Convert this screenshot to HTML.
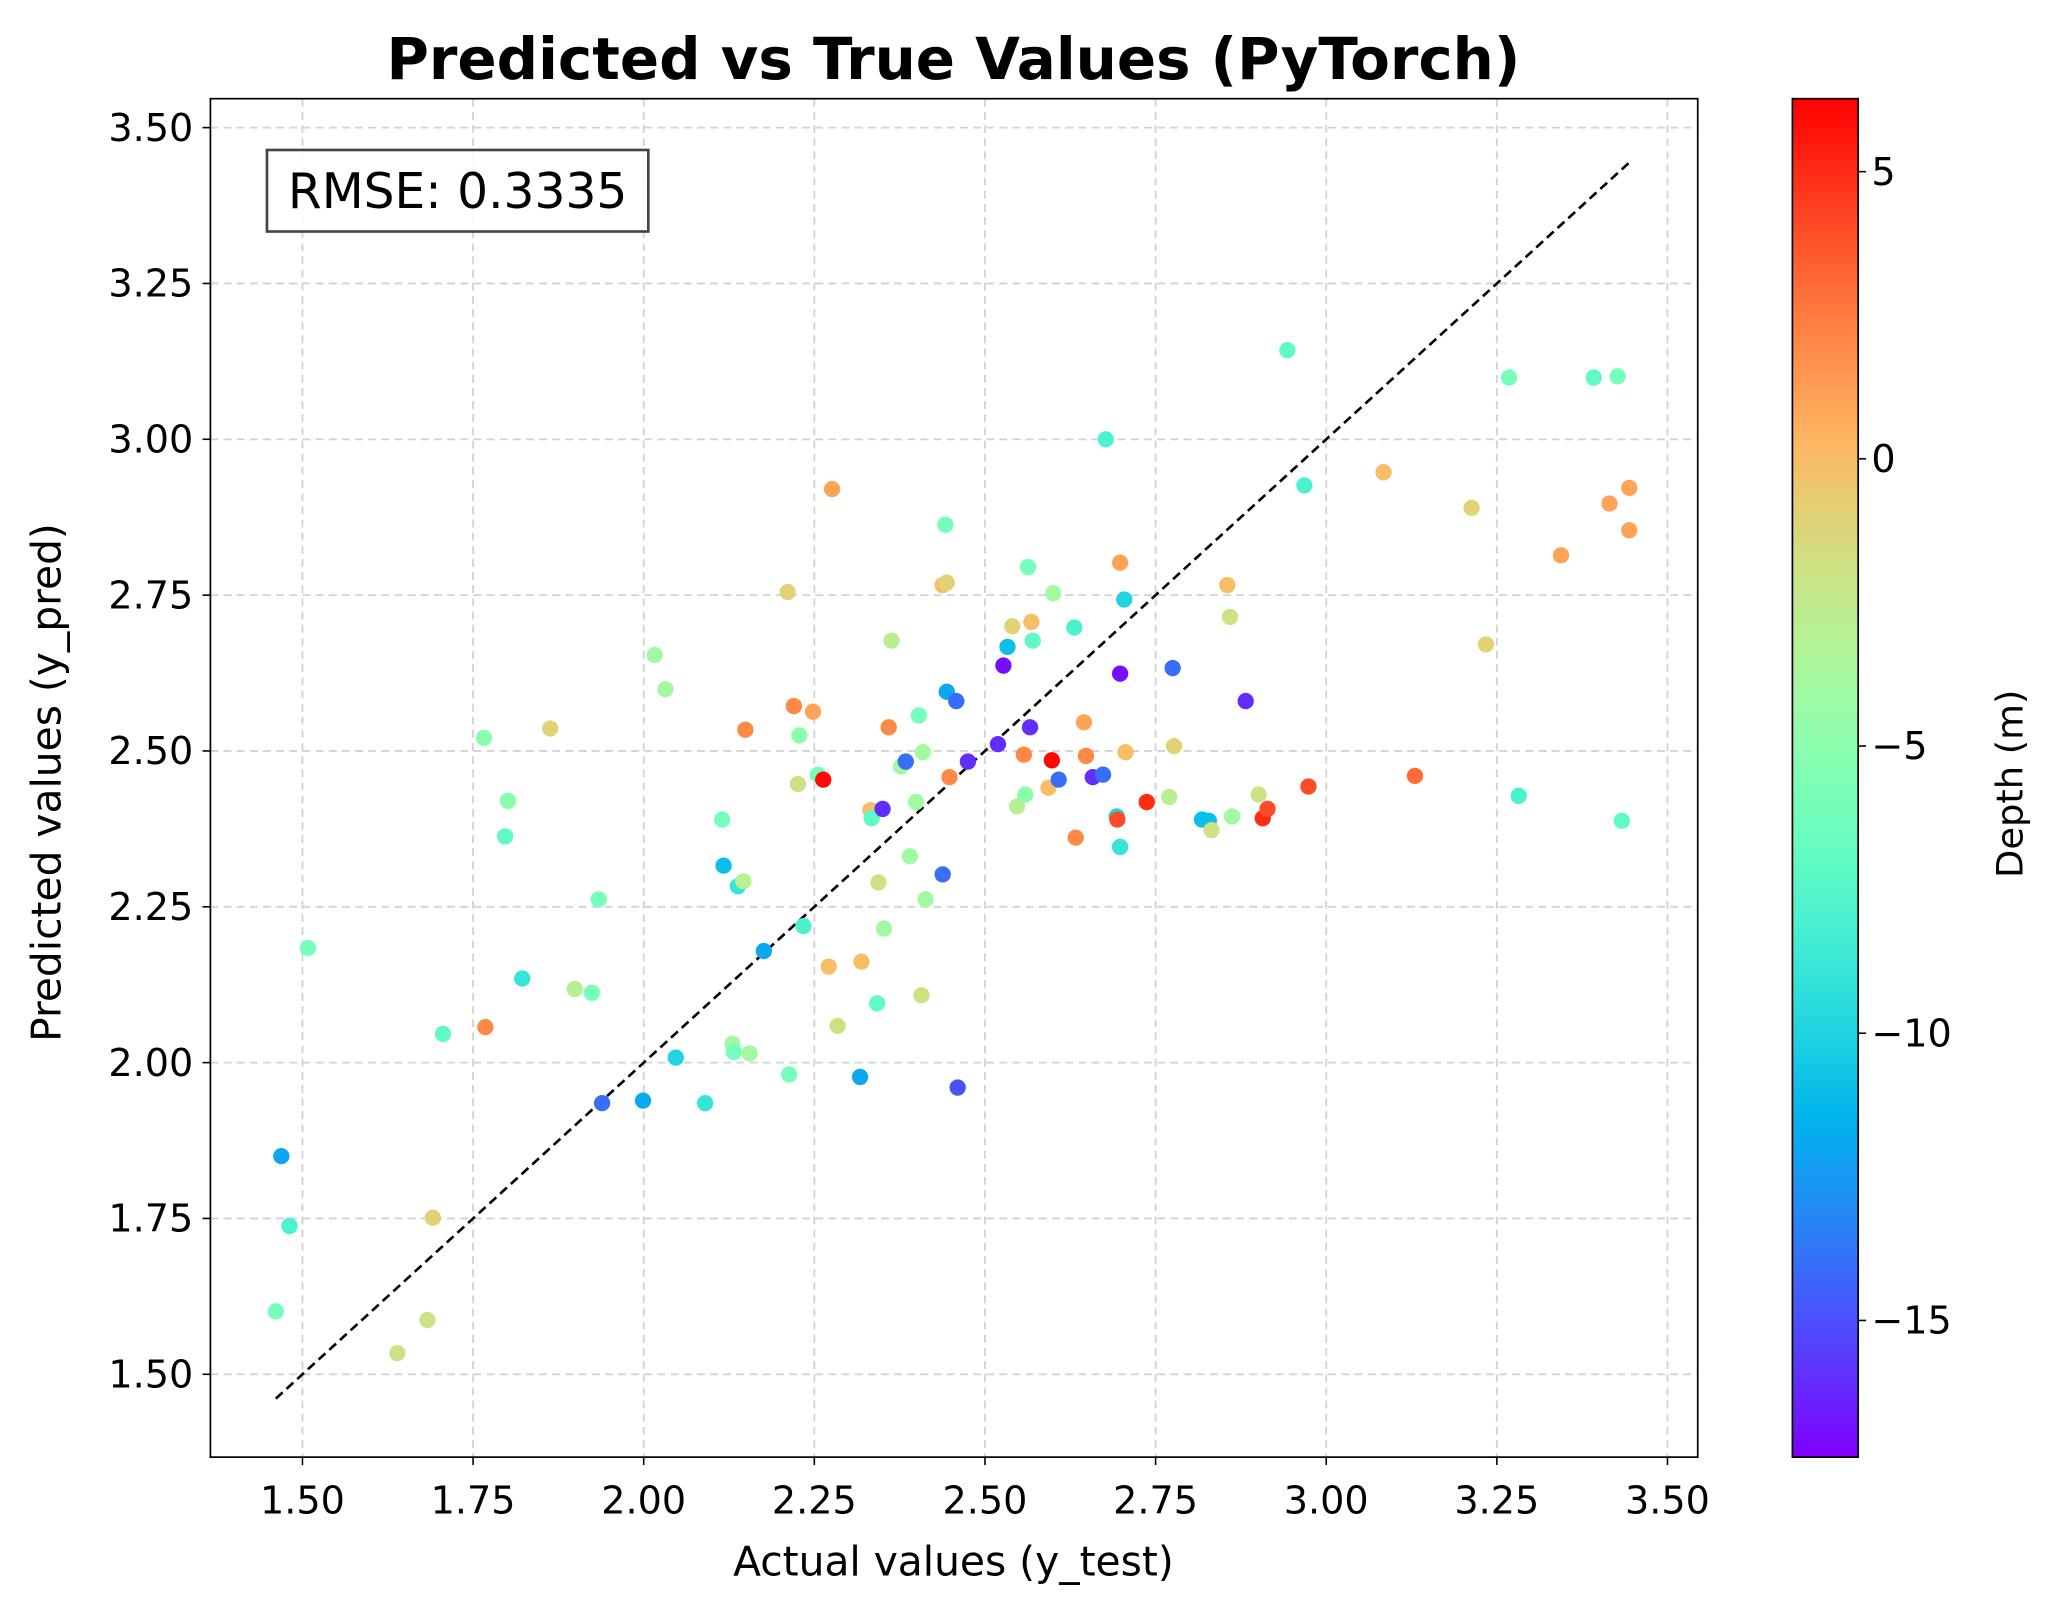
<!DOCTYPE html>
<html><head><meta charset="utf-8"><style>
html,body{margin:0;padding:0;background:#fff;}
svg{display:block;font-family:"DejaVu Sans","Liberation Sans",sans-serif;}
</style></head><body>
<svg id="chart" width="2062" height="1615" viewBox="0 0 1568 1228" xmlns="http://www.w3.org/2000/svg">
<defs><linearGradient id="cbgrad" x1="0" y1="1" x2="0" y2="0"></linearGradient></defs>
<rect width="1568" height="1228" fill="#fff"/>
<g id="grid"></g>
<g id="diag"></g>
<g id="points"></g>
<rect x="160" y="75" width="1131" height="1033" fill="none" stroke="#000" stroke-width="1.3"/>
<g id="xticks"></g><g id="yticks"></g>
<g>
<rect x="203" y="114" width="290" height="62" fill="#fff" fill-opacity="0.8" stroke="#444" stroke-width="2"/>
<text x="348" y="158" text-anchor="middle" font-size="37" fill="#000">RMSE: 0.3335</text>
</g>
<text x="725" y="60" text-anchor="middle" font-size="44" font-weight="bold">Predicted vs True Values (PyTorch)</text>
<text x="725" y="1198" text-anchor="middle" font-size="31">Actual values (y_test)</text>
<text transform="translate(46,595) rotate(-90)" text-anchor="middle" font-size="31">Predicted values (y_pred)</text>
<rect x="1363" y="75" width="50" height="1033" fill="url(#cbgrad)" stroke="#000" stroke-width="1.3"/>
<g id="cbticks"></g>
<text transform="translate(1538,596) rotate(-90)" text-anchor="middle" font-size="28">Depth (m)</text>
</svg>
<script>
const xTicks=[1.50,1.75,2.00,2.25,2.50,2.75,3.00,3.25,3.50];
const yTicks=[1.50,1.75,2.00,2.25,2.50,2.75,3.00,3.25,3.50];
const cbTicks=[5,0,-5,-10,-15];
const actual=[1.469,1.481,1.461,1.508,1.639,1.683,1.691,1.706,1.768,1.766,1.797,1.801,1.822,1.863,1.899,1.924,1.934,1.939,1.999,2.016,2.032,2.047,2.090,2.115,2.117,2.130,2.132,2.138,2.146,2.149,2.155,2.176,2.211,2.213,2.220,2.226,2.228,2.234,2.248,2.255,2.263,2.271,2.276,2.284,2.319,2.317,2.332,2.334,2.344,2.350,2.342,2.352,2.359,2.363,2.377,2.384,2.390,2.399,2.403,2.409,2.407,2.413,2.438,2.444,2.442,2.444,2.438,2.448,2.458,2.460,2.475,2.519,2.527,2.533,2.540,2.547,2.557,2.559,2.563,2.566,2.568,2.570,2.593,2.598,2.600,2.608,2.631,2.633,2.645,2.648,2.658,2.673,2.677,2.693,2.694,2.698,2.698,2.698,2.704,2.706,2.737,2.770,2.775,2.777,2.818,2.828,2.832,2.855,2.859,2.862,2.882,2.901,2.907,2.914,2.943,2.968,2.974,3.084,3.130,3.213,3.234,3.268,3.282,3.344,3.392,3.415,3.427,3.433,3.444,3.444];
const predicted=[1.850,1.738,1.601,2.184,1.534,1.587,1.751,2.046,2.057,2.521,2.363,2.420,2.135,2.536,2.118,2.112,2.262,1.935,1.939,2.654,2.599,2.008,1.935,2.390,2.316,2.030,2.017,2.283,2.291,2.534,2.015,2.179,2.755,1.981,2.572,2.447,2.525,2.219,2.563,2.462,2.454,2.154,2.920,2.059,2.162,1.977,2.405,2.392,2.289,2.407,2.095,2.215,2.538,2.677,2.475,2.483,2.331,2.418,2.557,2.498,2.108,2.262,2.766,2.770,2.863,2.595,2.302,2.458,2.580,1.960,2.483,2.511,2.637,2.667,2.700,2.411,2.494,2.430,2.795,2.538,2.707,2.677,2.441,2.485,2.753,2.454,2.698,2.361,2.546,2.492,2.458,2.462,3.000,2.395,2.390,2.624,2.802,2.346,2.743,2.498,2.418,2.426,2.633,2.508,2.390,2.388,2.373,2.766,2.715,2.395,2.580,2.430,2.392,2.407,3.143,2.926,2.443,2.947,2.460,2.890,2.671,3.099,2.428,2.814,3.099,2.897,3.101,2.388,2.922,2.854];
const depth=[-12,-8,-6,-6,-2,-2,-1,-7,2,-5,-7,-5,-9,-1,-3,-6,-6,-14,-12,-4,-4,-10,-9,-6,-11,-4,-6,-9,-3,2,-4,-12,-1,-6,2,-2,-5,-8,1,-6,6,0,1,-2,0,-12,0,-7,-2,-16,-7,-4,2,-3,-4,-14,-4,-4,-6,-4,-2,-4,0,-1,-6,-12,-14,2,-14,-15,-16,-16,-17,-11,-1,-3,2,-5,-6,-16,0,-7,0,6,-4,-14,-8,2,1,2,-16,-14,-8,-10,4,-17,1,-9,-10,0,5,-3,-14,-1,-11,-11,-2,0,-2,-4,-16,-2,5,4,-7,-8,4,0,3,-1,-1,-6,-8,1,-7,1,-6,-7,1,1];
const X0=160,X1=1291,Y0=75,Y1=1108;
const sx=v=>230+(v-1.5)/0.25*129.75;
const sy=v=>1045-(v-1.5)/0.25*118.5;
const dMin=-17.38,dMax=6.27;
const sc=v=>1108-(v-dMin)/(dMax-dMin)*1033;
const NS="http://www.w3.org/2000/svg";
function mk(t,a,p){const e=document.createElementNS(NS,t);for(const k in a)e.setAttribute(k,a[k]);p.appendChild(e);return e;}
function rainbow(t){t=Math.max(0,Math.min(1,t));const c=v=>Math.round(Math.max(0,Math.min(1,v))*255);
return `rgb(${c(Math.abs(2*t-0.5))},${c(Math.sin(Math.PI*t))},${c(Math.cos(Math.PI*t/2))})`;}
const grid=document.getElementById('grid');
xTicks.forEach(v=>{const l=mk('line',{x1:sx(v),x2:sx(v),y1:Y0,y2:Y1,stroke:'#d3d3d3','stroke-width':1.4,'stroke-dasharray':'6,4'},grid);

});
yTicks.forEach(v=>{const l=mk('line',{x1:X0,x2:X1,y1:sy(v),y2:sy(v),stroke:'#d3d3d3','stroke-width':1.4,'stroke-dasharray':'6,4'},grid);

});
const xt=document.getElementById('xticks');
xTicks.forEach(v=>{mk('line',{x1:sx(v),x2:sx(v),y1:Y1,y2:Y1+6,stroke:'#000','stroke-width':1.2},xt);
const t=mk('text',{x:sx(v),y:Y1+43,'text-anchor':'middle','font-size':29},xt);t.textContent=v.toFixed(2);

});
const yt=document.getElementById('yticks');
yTicks.forEach(v=>{mk('line',{x1:X0-6,x2:X0,y1:sy(v),y2:sy(v),stroke:'#000','stroke-width':1.2},yt);
const t=mk('text',{x:X0-13,y:sy(v)+10,'text-anchor':'end','font-size':29},yt);t.textContent=v.toFixed(2);

});
const cbt=document.getElementById('cbticks');
cbTicks.forEach(v=>{mk('line',{x1:1413,x2:1419,y1:sc(v),y2:sc(v),stroke:'#000','stroke-width':1.2},cbt);
const t=mk('text',{x:1423,y:sc(v)+10,'font-size':29},cbt);t.textContent=(v<0?'\u2212'+(-v):''+v);

});
const g=document.getElementById('cbgrad');
for(let i=0;i<=20;i++){mk('stop',{offset:(i/20),'stop-color':rainbow(i/20)},g);}
const mn=Math.min(...actual),mx=Math.max(...actual);
const dl=mk('line',{x1:sx(mn),y1:sy(mn),x2:sx(mx),y2:sy(mx),stroke:'#000','stroke-width':2,'stroke-dasharray':'7,4'},document.getElementById('diag'));


const pts=document.getElementById('points');
actual.forEach((a,i)=>{const c=mk('circle',{cx:sx(a),cy:sy(predicted[i]),r:6.2,fill:rainbow((depth[i]-dMin)/(dMax-dMin))},pts);

});
</script>
</body></html>
